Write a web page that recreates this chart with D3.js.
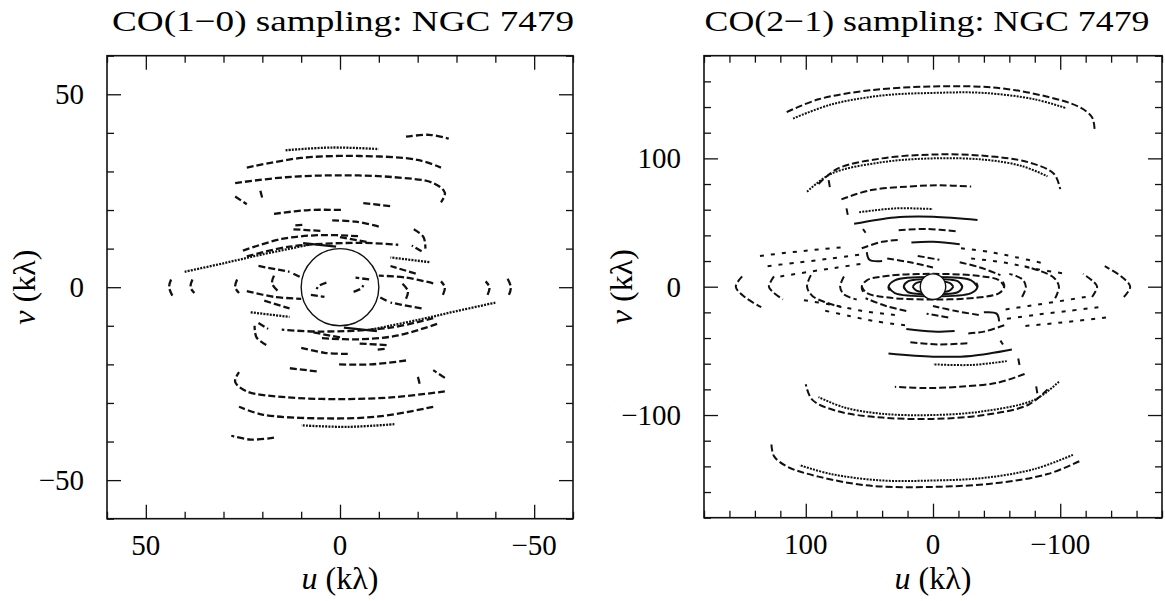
<!DOCTYPE html>
<html>
<head>
<meta charset="utf-8">
<script src="https://cdn.jsdelivr.net/npm/d3@7"></script>
<style>
body { margin: 0; background: #fff; }
</style>
</head>
<body>
<svg id="chart" width="1165" height="601" font-family="Liberation Serif, serif"></svg>
<script>
// uv tracks, [u, v] in kλ. Only one of each conjugate
// pair is listed, the (-u, -v) twin is drawn from it.
var tracks10 = [
  [[14,35.5],[2,36.2],[-10,35.8]],
  [[24,31],[10,33.5],[-5,34],[-20,33],[-26,31]],
  [[-17,39],[-23,39.5],[-28,38.5]],
  [[27,27],[14,28.5],[0,29],[-14,28.5],[-24,27],[-27,24.5],[-26,22]],
  [[27,23.5],[24,21.5]],
  [[20.5,25],[20,23]],
  [[17,19],[8,20],[-1,20]],
  [[-6,21.8],[-13,21]],
  [[2,17.3],[-4,17],[-10,15.7]],
  [[11.5,16],[9.5,16.2]],
  [[-19,15],[-21.5,13],[-22,10]],
  [[12,15],[5,14.6]],
  [[25,9.5],[15,12.5],[5,13.5],[-5,13.2]],
  [[24,8],[13,10.5],[-5,11.5],[-15,11]],
  [[9.5,11.4],[1,10.5]],
  [[0,13],[-7,11.7]],
  [[40,4],[30,6.2],[20,8.5],[8,11]],
  [[21,5.5],[13,4]],
  [[43.5,2],[44,0],[43,-2.5]],
  [[38,2],[38.5,0],[37.5,-1.5]],
  [[26.5,2],[27,0],[26,-1.5]],
  [[17,3],[17.5,1],[16,-1]],
  [[12,3.5],[10,2.5]],
  [[24,-1],[17,-2.5],[10,-3]],
  [[19.5,-3.5],[13,-5.5]],
  [[23,-6.5],[13,-7.7]],
  [[21,-9.3],[18.5,-10.8]],
  [[3.5,1.2],[5.5,0.3],[6,-0.5]],
  [[7.5,-2],[4,-2.5]]
];
var styles10 = [
  "dot","dash","dash","dash","dash","dash","dash","dash","dash","dash",
  "dash","dash","dash","dash","solid","dash","dot","dash","dash","dash",
  "dash","dash","dash","dash","dash","dot","dash","dash","dash"
];

var tracks21 = [
  [[115,136],[90,146],[50,153],[0,156],[-50,155],[-90,148],[-115,140],[-125,132],[-127,123]],
  [[110,131],[80,142],[40,149],[0,151],[-40,151],[-80,146],[-105,139]],
  [[90,80],[75,92],[40,100],[0,103],[-40,102],[-75,97],[-95,88],[-100,76]],
  [[99,74],[80,88],[40,97],[0,100],[-40,99],[-70,94],[-90,86]],
  [[82,83],[81,77]],
  [[72,68],[50,75],[20,78],[-5,79],[-30,78]],
  [[58,58],[30,61],[0,60.5]],
  [[68,61],[67,56]],
  [[62,49],[30,54],[0,54.5],[-35,52]],
  [[27,44],[5,45],[-20,43]],
  [[56,30],[40,35],[26,36.5]],
  [[17,34.5],[0,35],[-21,33]],
  [[136,24],[110,27],[90,29],[68,31]],
  [[130,16],[105,19],[80,22],[58,25]],
  [[120,8],[95,12],[75,15],[55,18]],
  [[-22,30],[-45,27],[-65,23],[-88,18]],
  [[-30,22],[-55,19],[-80,14],[-105,10]],
  [[36,22],[18,19],[0,15]],
  [[12,24],[-5,21]],
  [[-21,19],[-37,15],[-53,9]],
  [[52,27],[50,21],[40,20]],
  [[55,45],[53,42]],
  [[150,8],[155,0],[148,-8],[135,-16]],
  [[125,8],[129,0],[126,-4],[118,-10]],
  [[96,9],[99,0],[95,-7],[85,-12],[72,-16]],
  [[70,8],[73,0],[70,-6],[60,-10]],
  [[55,-4],[56,0],[52,5],[35,8.5],[0,10],[-35,8.5],[-52,5],[-56,0]],
  [[34,-3],[35,0],[30,5],[0,7.5],[-30,5],[-35,0]],
  [[22,-2],[23,0],[20,4],[0,6],[-20,4],[-23,0]],
  [[16,0],[13,3],[0,4.5],[-13,3],[-16,0]]
];
var styles21 = [
  "dash","dot","dash","dot","dash","dash","dot","solid","solid","dash",
  "dash","solid","sparse","sparse","sparse","sparse","sparse","dash","dash","dash",
  "solid","solid","dash","dash","dash","dash","dash","solid","solid","solid"
];

var titles = ["CO(1\u22120) sampling: NGC 7479", "CO(2\u22121) sampling: NGC 7479"];
var ticks10 = { major: [-50, 0, 50], minor: d3.range(-60, 61, 10) };
var ticks21 = { major: [-100, 0, 100], minor: d3.range(-180, 181, 20) };
var beamRadius = [10, 10];   // kλ, the circle round the origin

var dashes = { dash: "7,3", dot: "2,1.2", sparse: "4,7", solid: null };

var svg = d3.select("#chart");

function panel(opt) {
  var x = d3.scaleLinear().domain(opt.xd).range([opt.left, opt.right]);
  var y = d3.scaleLinear().domain(opt.yd).range([opt.bottom, opt.top]);
  var g = svg.append("g");
  var w = opt.right - opt.left, h = opt.bottom - opt.top;

  var line = d3.line()
    .x(function(d) { return x(d[0]); })
    .y(function(d) { return y(d[1]); })
    .curve(d3.curveCatmullRom.alpha(0.5));

  var clip = "clip" + opt.id;
  g.append("clipPath").attr("id", clip)
    .append("rect").attr("x", opt.left).attr("y", opt.top).attr("width", w).attr("height", h);

  var plot = g.append("g").attr("clip-path", "url(#" + clip + ")");
  opt.tracks.forEach(function(t, i) {
    var conj = t.map(function(p) { return [-p[0], -p[1]]; });
    [t, conj].forEach(function(pts) {
      plot.append("path")
        .attr("d", line(pts))
        .attr("fill", "none")
        .attr("stroke", "#111")
        .attr("stroke-width", opt.lw)
        .attr("stroke-dasharray", dashes[opt.styles[i]]);
    });
  });

  plot.append("ellipse")
    .attr("cx", x(0)).attr("cy", y(0))
    .attr("rx", Math.abs(x(opt.beam) - x(0)))
    .attr("ry", Math.abs(y(opt.beam) - y(0)))
    .attr("fill", opt.fillBeam ? "#fff" : "none")
    .attr("stroke", "#111").attr("stroke-width", 1.4);

  var minor = opt.ticks.minor.filter(function(v) { return opt.ticks.major.indexOf(v) < 0; });
  function axes(gen, tr, vals, size) {
    g.append("g").attr("transform", tr)
      .call(gen.tickValues(vals).tickSize(size).tickFormat(""))
      .call(function(s) { s.select(".domain").remove(); s.selectAll("line").attr("stroke", "#111").attr("stroke-width", 1.3); });
  }
  [[minor, -7], [opt.ticks.major, -14]].forEach(function(p) {
    axes(d3.axisBottom(x), "translate(0," + opt.bottom + ")", p[0], p[1]);
    axes(d3.axisTop(x), "translate(0," + opt.top + ")", p[0], p[1]);
    axes(d3.axisLeft(y), "translate(" + opt.left + ",0)", p[0], p[1]);
    axes(d3.axisRight(y), "translate(" + opt.right + ",0)", p[0], p[1]);
  });

  g.append("rect")
    .attr("x", opt.left).attr("y", opt.top).attr("width", w).attr("height", h)
    .attr("fill", "none").attr("stroke", "#111").attr("stroke-width", 1.6);

  var fmt = d3.format("");
  g.selectAll(".xl").data(opt.ticks.major).join("text")
    .attr("x", function(d) { return x(d); })
    .attr("y", opt.bottom + 36)
    .attr("text-anchor", "middle")
    .attr("font-family", "Liberation Serif")
    .attr("font-size", 29)
    .text(fmt);
  g.selectAll(".yl").data(opt.ticks.major).join("text")
    .attr("x", opt.left - 23)
    .attr("y", function(d) { return y(d) + 10; })
    .attr("text-anchor", "end")
    .attr("font-family", "Liberation Serif")
    .attr("font-size", 29)
    .text(fmt);

  g.append("text")
    .attr("x", opt.titleX).attr("y", 31)
    .attr("textLength", opt.titleW).attr("lengthAdjust", "spacingAndGlyphs")
    .attr("text-anchor", "middle")
    .attr("font-family", "Liberation Serif")
    .attr("font-size", 30)
    .text(opt.title);

  var xt = g.append("text")
    .attr("x", (opt.left + opt.right) / 2).attr("y", 589)
    .attr("text-anchor", "middle")
    .attr("font-family", "Liberation Serif").attr("font-size", 32);
  xt.append("tspan").attr("font-style", "italic").text("u");
  xt.append("tspan").text(" (k\u03bb)");

  var cy = (opt.top + opt.bottom) / 2;
  var yt = g.append("text")
    .attr("transform", "translate(" + (opt.left - 72) + "," + cy + ") rotate(-90)")
    .attr("text-anchor", "middle")
    .attr("font-family", "Liberation Serif").attr("font-size", 32);
  yt.append("tspan").attr("font-style", "italic").text("v");
  yt.append("tspan").text(" (k\u03bb)");
}

panel({
  id: 1, xd: [60, -60], yd: [-60, 60],
  left: 107, right: 573, top: 55.7, bottom: 518.7, lw: 2.3,
  tracks: tracks10, styles: styles10, ticks: ticks10, beam: beamRadius[0],
  title: titles[0], titleX: 343, titleW: 462, fillBeam: false
});
panel({
  id: 2, xd: [180, -180], yd: [-180, 180],
  left: 704, right: 1162, top: 55.7, bottom: 517.7, lw: 2,
  tracks: tracks21, styles: styles21, ticks: ticks21, beam: beamRadius[1],
  title: titles[1], titleX: 927, titleW: 445, fillBeam: true
});
</script>
</body>
</html>
